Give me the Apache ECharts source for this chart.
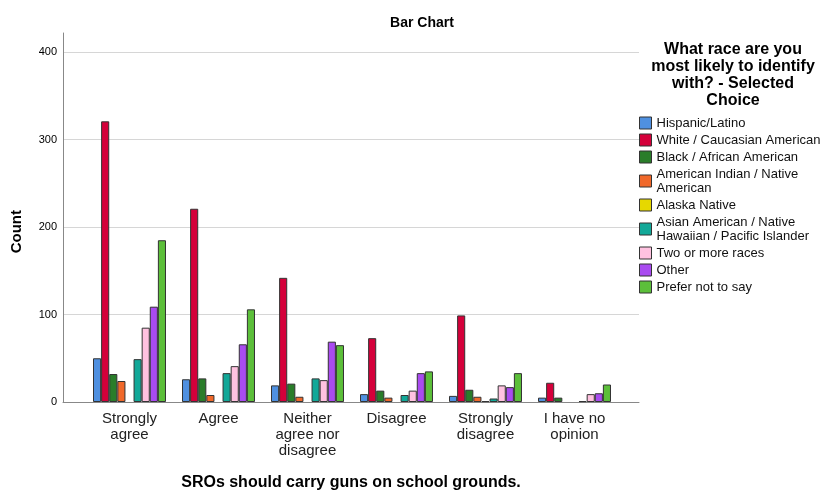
<!DOCTYPE html>
<html><head><meta charset="utf-8">
<script src="https://cdn.jsdelivr.net/npm/echarts@6/dist/echarts.min.js"></script>
<style>html,body{margin:0;padding:0;background:#fff}#c{width:825px;height:491px}</style>
</head><body><div id="c"></div>
<script>
const categories = ["Strongly agree","Agree","Neither agree nor disagree","Disagree","Strongly disagree","I have no opinion"];
const categoryLabels = ["Strongly\nagree","Agree","Neither\nagree nor\ndisagree","Disagree","Strongly\ndisagree","I have no\nopinion"];
const seriesNames = ["Hispanic/Latino","White / Caucasian American","Black / African American","American Indian / Native American","Alaska Native","Asian American / Native Hawaiian / Pacific Islander","Two or more races","Other","Prefer not to say"];
const legendLabels = ["Hispanic/Latino","White / Caucasian American","Black / African American","American Indian / Native\nAmerican","Alaska Native","Asian American / Native\nHawaiian / Pacific Islander","Two or more races","Other","Prefer not to say"];
const colors = ["#4f90e0","#d4003a","#2a7d2a","#f0682a","#e6d800","#12a898","#ffc2e0","#a94bf0","#5cbf3a"];
const hispanic = [50,26,19,9,7,5];
const white = [321,221,142,73,99,22];
const black = [32,27,21,13,14,5];
const amIndian = [24,8,6,5,6,0];
const alaska = [0,0,0,0,1,0];
const asian = [49,33,27,8,4,1];
const twoOrMore = [85,41,25,13,19,9];
const other = [109,66,69,33,17,10];
const preferNot = [185,106,65,35,33,20];
const seriesValues = [hispanic,white,black,amIndian,alaska,asian,twoOrMore,other,preferNot];
const yTicks = [0,100,200,300,400];
const yMax = 422;

const font = "Arial, 'Liberation Sans', sans-serif";
const chart = echarts.init(document.getElementById('c'));
const labelMap = {};
seriesNames.forEach((n,i)=>labelMap[n]=legendLabels[i]);
const catLabelMap = {};
categories.forEach((c,i)=>catLabelMap[c]=categoryLabels[i]);

chart.setOption({
  animation:false,
  textStyle:{fontFamily:font},
  title:[
    {text:"Bar Chart",left:417,top:11,textAlign:'center',textStyle:{fontSize:14,fontWeight:'bold',color:'#000',fontFamily:font}},
    {text:"What race are you\nmost likely to identify\nwith? - Selected\nChoice",left:728,top:36,textAlign:'center',
     textStyle:{fontSize:16,fontWeight:'bold',color:'#000',lineHeight:17,fontFamily:font}}
  ],
  graphic:[{type:'text',left:9,top:210,rotation:Math.PI/2,style:{text:'Count',font:"bold 15px Arial, 'Liberation Sans', sans-serif",fill:'#000'}}],
  legend:{
    orient:'vertical',left:634,top:111,itemWidth:12,itemHeight:12,itemGap:3,icon:'rect',
    data:seriesNames,
    formatter:n=>labelMap[n],
    itemStyle:{borderColor:'#333',borderWidth:1},
    textStyle:{fontSize:13,lineHeight:14,color:'#111',fontFamily:font}
  },
  grid:[
    {left:63,right:186,top:33,bottom:89,outerBoundsMode:'none',containLabel:false},
    {left:85,right:206,top:33,bottom:89,outerBoundsMode:'none',containLabel:false}
  ],
  xAxis:[
    {type:'value',gridIndex:0,min:0,max:1,axisLine:{show:true,onZero:false,lineStyle:{color:'#888',width:1}},axisTick:{show:false},axisLabel:{show:false},splitLine:{show:false},
     name:"SROs should carry guns on school grounds.",nameLocation:'middle',nameGap:73,
     nameTextStyle:{fontSize:16,fontWeight:'bold',color:'#000',fontFamily:font}},
    {type:'category',gridIndex:1,data:categories,axisLine:{show:false},axisTick:{show:false},
     axisLabel:{formatter:v=>catLabelMap[v],fontSize:15,lineHeight:16,color:'#222',margin:9,interval:0,fontFamily:font}}
  ],
  yAxis:[
    {type:'value',gridIndex:0,min:0,max:yMax,interval:100,
     axisLine:{show:true,lineStyle:{color:'#888',width:1}},axisTick:{show:false},
     axisLabel:{fontSize:11,color:'#000',margin:6,showMaxLabel:false,fontFamily:font,
       formatter:v=>yTicks.includes(v)?String(v):''},
     splitLine:{show:true,showMaxLine:false,lineStyle:{color:'#d6d6d6',width:1}}},
    {type:'value',gridIndex:1,min:0,max:yMax,show:false,splitLine:{show:false}}
  ],
  series:seriesNames.map((n,i)=>({
    name:n,type:'bar',xAxisIndex:1,yAxisIndex:1,
    data:seriesValues[i].map(v=>v===0?null:v),
    barGap:'0%',barCategoryGap:'18%',
    itemStyle:{color:colors[i],borderColor:'#333',borderWidth:1}
  }))
});
</script></body></html>
